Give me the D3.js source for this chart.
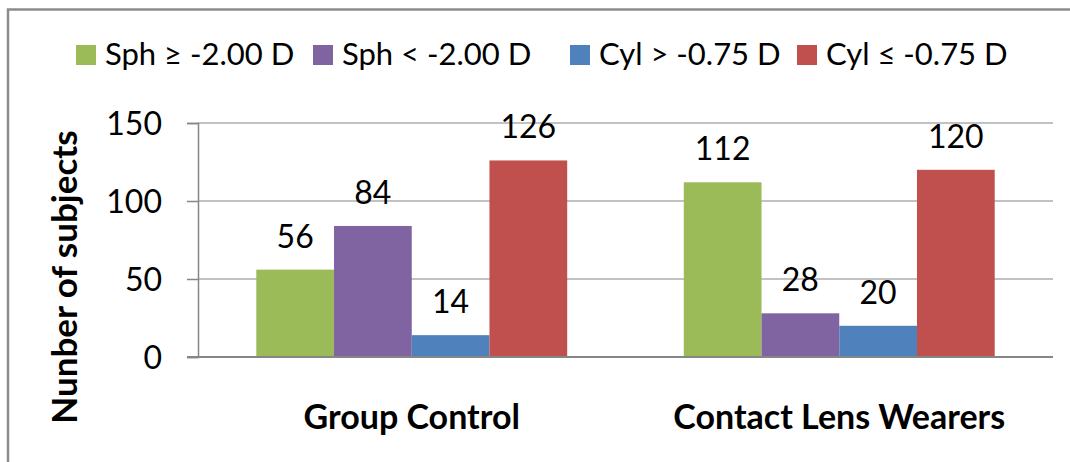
<!DOCTYPE html>
<html lang="en">
<head>
    <meta charset="UTF-8">
    <title>Number of subjects by group</title>
    <style>
        body, html {
            margin: 0;
            padding: 0;
            background-color: #fff;
        }
        svg text {
            font-family: "Lato", "Liberation Sans", sans-serif;
            fill: #000;
        }
    </style>
</head>
<body>
    <div id="chart"></div>

    <script src="https://d3js.org/d3.v7.min.js"></script>
    <script>
        const groups = ["Group Control", "Contact Lens Wearers"];
        const seriesNames = ["Sph ≥ -2.00 D", "Sph < -2.00 D", "Cyl > -0.75 D", "Cyl ≤ -0.75 D"];
        const seriesColors = ["#9BBB59", "#8064A2", "#4F81BD", "#C0504D"];
        const groupControl = [56, 84, 14, 126];
        const contactLens = [112, 28, 20, 120];
        const yTicks = [0, 50, 100, 150];

        const values = [groupControl, contactLens];

        const width = 1070, height = 462;
        const margin = { left: 198, right: 17, top: 123, bottom: 105 };
        const plotW = width - margin.left - margin.right;
        const plotH = height - margin.top - margin.bottom;

        const svg = d3.select("#chart")
            .append("svg")
            .attr("width", width)
            .attr("height", height);

        // outer frame (cropped on right and bottom)
        svg.append("rect")
            .attr("x", 8)
            .attr("y", 9.5)
            .attr("width", width + 10)
            .attr("height", height + 10)
            .attr("fill", "none")
            .attr("stroke", "#8c8c8c")
            .attr("stroke-width", 2.5);

        const g = svg.append("g")
            .attr("transform", `translate(${margin.left},${margin.top})`);

        const y = d3.scaleLinear().domain([0, 150]).range([plotH, 0]);
        const x0 = d3.scaleBand().domain(groups).range([0, plotW]);
        const x1 = d3.scaleBand().domain(seriesNames)
            .range([0, x0.bandwidth()])
            .paddingInner(0)
            .paddingOuter(0.75);

        // gridlines
        g.append("g")
            .selectAll("line")
            .data(yTicks.filter(d => d > 0))
            .join("line")
            .attr("x1", 0)
            .attr("x2", plotW)
            .attr("y1", d => y(d))
            .attr("y2", d => y(d))
            .attr("stroke", "#868686")
            .attr("stroke-width", 1.2);

        // y axis
        const yAxis = g.append("g")
            .call(d3.axisLeft(y).tickValues(yTicks).tickSize(11).tickPadding(25));
        yAxis.select(".domain").attr("stroke", "#868686").attr("stroke-width", 1.5);
        yAxis.selectAll(".tick line").attr("stroke", "#868686").attr("stroke-width", 1.5);
        yAxis.selectAll(".tick text")
            .attr("font-size", "32px")
            .attr("dy", "0.36em")
            .attr("fill", "#000");

        // bars
        const groupG = g.append("g")
            .selectAll("g")
            .data(groups)
            .join("g")
            .attr("transform", d => `translate(${x0(d)},0)`);

        groupG.selectAll("rect")
            .data((d, i) => seriesNames.map((s, j) => ({ s, v: values[i][j], c: seriesColors[j] })))
            .join("rect")
            .attr("x", d => x1(d.s))
            .attr("width", x1.bandwidth())
            .attr("y", d => y(d.v))
            .attr("height", d => plotH - y(d.v))
            .attr("fill", d => d.c);

        // value labels
        groupG.selectAll("text")
            .data((d, i) => seriesNames.map((s, j) => ({ s, v: values[i][j] })))
            .join("text")
            .attr("x", d => x1(d.s) + x1.bandwidth() / 2)
            .attr("y", d => y(d.v) - 22)
            .attr("text-anchor", "middle")
            .attr("font-size", "32px")
            .text(d => d.v);

        // baseline
        g.append("line")
            .attr("x1", -11)
            .attr("x2", plotW)
            .attr("y1", plotH)
            .attr("y2", plotH)
            .attr("stroke", "#868686")
            .attr("stroke-width", 2);

        // category labels
        g.append("g")
            .selectAll("text")
            .data(groups)
            .join("text")
            .attr("x", d => x0(d) + x0.bandwidth() / 2)
            .attr("y", plotH + 72)
            .attr("text-anchor", "middle")
            .attr("font-size", "34px")
            .attr("font-weight", "bold")
            .text(d => d);

        // y axis title
        svg.append("text")
            .attr("transform", "translate(77,277) rotate(-90)")
            .attr("text-anchor", "middle")
            .attr("font-size", "35px")
            .attr("font-weight", "bold")
            .text("Nunber of subjects");

        // legend
        const legendX = [76, 313, 570, 797];
        const legend = svg.append("g")
            .selectAll("g")
            .data(seriesNames)
            .join("g")
            .attr("transform", (d, i) => `translate(${legendX[i]},45)`);

        legend.append("rect")
            .attr("width", 20)
            .attr("height", 20)
            .attr("fill", (d, i) => seriesColors[i]);

        legend.append("text")
            .attr("x", 29)
            .attr("y", 20)
            .attr("font-size", "31px")
            .text(d => d);
    </script>
</body>
</html>
